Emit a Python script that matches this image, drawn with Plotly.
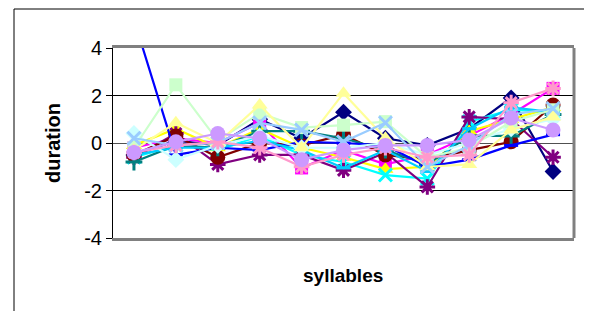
import plotly.graph_objects as go

categories = [f"s{i}" for i in range(1, 12)]

series_names = ["1", "2", "3", "4", "5", "6", "7", "8", "9", "10", "11", "12", "13", "14", "15"]
series_colors = ["#000080", "#FF00FF", "#FFFF00", "#00FFFF", "#800080", "#800000", "#008080",
                 "#0000FF", "#00CCFF", "#CCFFFF", "#CCFFCC", "#FFFF99", "#99CCFF", "#FF99CC", "#CC99FF"]
series_symbols = ["diamond", "square", "triangle-up", "x-thin-open", "asterisk-open", "circle",
                  "cross-thin-open", "line-ew-open", "line-ew-open", "diamond", "square",
                  "triangle-up", "x-thin-open", "asterisk-open", "circle"]

s1 = [-0.5, 0.1, -0.1, 1.0, 0.2, 1.3, 0.2, -0.1, 0.6, 1.9, -1.2]
s2 = [-0.2, 0.2, 0.0, 0.85, -1.05, -0.3, -0.9, -0.5, 0.3, 1.2, 2.3]
s3 = [-0.1, 0.6, -0.2, 0.6, -0.2, -0.6, -1.1, -1.0, 0.5, 1.0, 1.5]
s4 = [-0.6, -0.1, -0.3, 0.3, -0.5, -0.8, -1.35, -1.5, 0.9, 1.4, 1.3]
s5 = [-0.6, 0.4, -0.9, -0.5, -0.5, -1.15, -0.4, -1.85, 1.1, 1.0, -0.6]
s6 = [-0.5, 0.3, -0.6, 0.0, -0.1, 0.35, -0.5, -0.7, -0.3, 0.05, 1.6]
s7 = [-0.8, -0.1, -0.2, 0.5, 0.5, 0.2, -0.3, -0.9, 0.3, 0.3, 1.2]
s8 = [5.2, -0.5, -0.2, -0.3, 0.05, 0.0, -0.1, -1.0, -0.7, -0.1, 0.35]
s9 = [-0.5, -0.2, -0.2, 0.1, -0.3, -1.05, -0.3, -1.2, 0.6, 1.5, 1.3]
s10 = [0.4, -0.7, -0.1, 0.3, -0.2, -0.2, 0.0, -0.5, 0.0, 0.6, 1.0]
s11 = [-0.2, 2.45, 0.1, 1.25, 0.65, 0.75, 0.9, -0.6, -0.2, 0.9, 1.4]
s12 = [-0.3, 0.85, 0.0, 1.6, -0.2, 2.1, 0.2, -1.0, -0.9, 0.55, 1.1]
s13 = [0.2, -0.1, 0.0, 0.85, 0.55, 0.05, 0.85, -1.0, -0.1, 1.2, 1.45]
s14 = [-0.4, -0.1, 0.05, -0.2, -1.0, -0.5, -0.2, -0.6, -0.5, 1.7, 2.3]
s15 = [-0.4, 0.05, 0.4, 0.2, -0.7, -0.3, -0.1, -0.1, 0.13, 1.05, 0.55]

all_series = [s1, s2, s3, s4, s5, s6, s7, s8, s9, s10, s11, s12, s13, s14, s15]

y_tickvals = [-4, -2, 0, 2, 4]
y_ticktext = ["-4", "-2", "0", "2", "4"]

marker_sizes = {"diamond": 13, "square": 13, "triangle-up": 14, "x-thin-open": 13,
                "asterisk-open": 13, "circle": 15, "cross-thin-open": 12, "line-ew-open": 10}

fig = go.Figure()
for name, vals, col, sym in zip(series_names, all_series, series_colors, series_symbols):
    is_open = sym.endswith("-open")
    fig.add_trace(go.Scatter(
        x=categories, y=vals, name=name, mode="lines+markers",
        line=dict(color=col, width=2.2),
        marker=dict(symbol=sym, size=marker_sizes[sym], color=col,
                    line=dict(color=col, width=3 if is_open else 0)),
        cliponaxis=True,
    ))

# the page body adds an 8px offset; compensate so the plot lands at x 113-574, y 48-238
OFF = 8
W, H = 592, 311
L, T = 113 - OFF, 48 - OFF
pw, ph = 461, 190
R, B = W - L - pw, H - T - ph


def px(xp):
    return (xp - OFF - L) / pw


def py(yp):
    return (T + ph - (yp - OFF)) / ph


fig.update_layout(
    width=W, height=H,
    margin=dict(l=L, r=R, t=T, b=B, autoexpand=False),
    paper_bgcolor="white", plot_bgcolor="white",
    showlegend=False,
    font=dict(family="Liberation Sans, Arial, sans-serif", color="black"),
    xaxis=dict(
        showticklabels=False, ticks="", showgrid=False, zeroline=False,
        showline=True, linecolor="#808080", linewidth=3, mirror=True,
        range=[-0.5, 10.5], automargin=False,
    ),
    yaxis=dict(
        range=[-4, 4], tickvals=y_tickvals, ticktext=y_ticktext,
        ticks="outside", ticklen=6, tickcolor="black", tickwidth=1,
        tickfont=dict(size=20),
        showgrid=True, gridcolor="black", gridwidth=1,
        zeroline=True, zerolinecolor="#505050", zerolinewidth=1,
        showline=True, linecolor="black", linewidth=1, automargin=False,
    ),
    annotations=[
        dict(text="<b>duration</b>", xref="paper", yref="paper",
             x=px(53), y=py(143), textangle=-90,
             showarrow=False, font=dict(size=20), xanchor="center", yanchor="middle"),
        dict(text="<b>syllables</b>", xref="paper", yref="paper",
             x=px(343), y=py(275),
             showarrow=False, font=dict(size=19), xanchor="center", yanchor="middle"),
    ],
    shapes=[
        dict(type="line", xref="paper", yref="paper", x0=1, x1=1, y0=0, y1=1,
             line=dict(color="#808080", width=3), layer="above"),
        dict(type="line", xref="paper", yref="paper",
             x0=px(14), x1=px(14), y0=py(9), y1=-1.0,
             line=dict(color="black", width=1)),
        dict(type="line", xref="paper", yref="paper",
             x0=px(14), x1=2.0, y0=py(9), y1=py(9),
             line=dict(color="black", width=1)),
    ],
)

fig.write_html("out.html")
